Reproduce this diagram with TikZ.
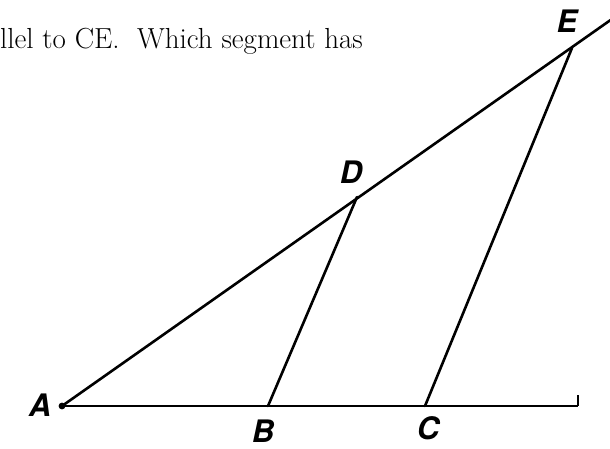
\documentclass[tikz,border=0pt]{standalone}
\usepackage{fontspec}
\newfontfamily\handfont{TeX Gyre Heros}
\begin{document}
\begin{tikzpicture}[x=1pt,y=-1pt,
  seg/.style={line width=2.6pt, line cap=round},
  base/.style={line width=2.2pt},
  lbl/.style={font=\handfont\itshape\bfseries\fontsize{31}{31}\selectfont, inner sep=0pt},
  txt/.style={font=\fontsize{29}{33}\selectfont, inner sep=0pt, anchor=base west}]
\useasboundingbox (0,0) rectangle (610,448);
\coordinate (A) at (62,406);
\coordinate (B) at (268,406);
\coordinate (C) at (425,406);
\coordinate (T) at (578,406);
\coordinate (Tt) at (578,395);
\coordinate (D) at (357,197);
\coordinate (E) at (572,48);
\coordinate (F) at (612,19);
\draw[seg] (A) -- (F);
\draw[base] (A) -- (T);
\draw[base] (T) -- (Tt);
\draw[seg] (B) -- (D);
\draw[seg] (C) -- (E);
\fill (A) circle (3.4);
\node[lbl] (lA) at (40,405) {A};
\node[lbl] (lB) at (263,431) {B};
\node[lbl] (lC) at (428,428) {C};
\node[lbl] (lD) at (351,172) {D};
\node[lbl] (lE) at (567,21) {E};
\node[txt] (t1) at (0,48) {llel to CE.\ \ Which segment has};
\end{tikzpicture}
\end{document}
